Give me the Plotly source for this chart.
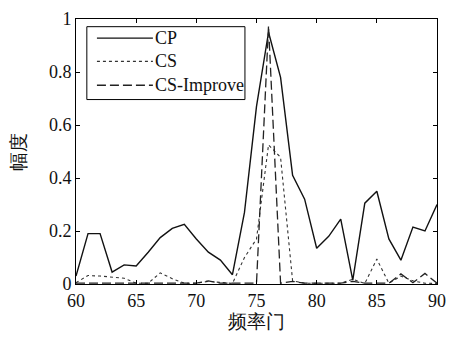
import plotly.graph_objects as go

freq = list(range(60, 91))
cp = [0.03, 0.19, 0.19, 0.045, 0.072, 0.068, 0.12, 0.175, 0.21, 0.225,
      0.17, 0.12, 0.09, 0.035, 0.27, 0.67, 0.95, 0.78, 0.41, 0.32,
      0.135, 0.18, 0.245, 0.015, 0.305, 0.35, 0.17, 0.09, 0.215, 0.2, 0.3]
cs = [0.005, 0.032, 0.03, 0.025, 0.022, 0.003, 0.003, 0.042, 0.02, 0.003,
      0.003, 0.01, 0.005, 0.002, 0.10, 0.17, 0.525, 0.478, 0.012, 0.003,
      0.003, 0.003, 0.003, 0.018, 0.002, 0.094, 0.003, 0.03, 0.012, 0.003, 0.002]
cs_imp = [0.003, 0.003, 0.003, 0.003, 0.003, 0.003, 0.003, 0.003, 0.003, 0.003,
          0.003, 0.012, 0.003, 0.003, 0.003, 0.003, 0.975, 0.003, 0.01, 0.003,
          0.003, 0.003, 0.003, 0.01, 0.003, 0.003, 0.003, 0.038, 0.005, 0.04, 0.003]
names = ["CP", "CS", "CS-Improve"]
x_ticks = [60, 65, 70, 75, 80, 85, 90]
y_ticks = [0, 0.2, 0.4, 0.6, 0.8, 1]
y_labels = ["0", "0.2", "0.4", "0.6", "0.8", "1"]

FONT = "Liberation Serif"
styles = [dict(color="#111111", width=1.4),
          dict(color="#333333", width=1.1, dash="dot"),
          dict(color="#222222", width=1.3, dash="9px,4px")]

fig = go.Figure()
for name, ys, st in zip(names, [cp, cs, cs_imp], styles):
    fig.add_trace(go.Scatter(x=freq, y=ys, name=name, mode="lines",
                             line=st, showlegend=False))

# legend drawn as a box with sample lines and labels (paper coordinates)
box = dict(x0=0.030, x1=0.468, y0=0.696, y1=0.971)
fig.add_shape(type="rect", xref="paper", yref="paper", **box,
              line=dict(color="black", width=1), fillcolor="white", layer="above")
rows = [0.928, 0.840, 0.750]
for name, st, yy in zip(names, styles, rows):
    fig.add_shape(type="line", xref="paper", yref="paper",
                  x0=0.058, x1=0.213, y0=yy, y1=yy, line=st, layer="above")
    fig.add_annotation(xref="paper", yref="paper", x=0.212, y=yy, text=name,
                       showarrow=False, xanchor="left", yanchor="middle",
                       font=dict(family=FONT, size=18, color="#111"))

axis_common = dict(showgrid=False, zeroline=False, showline=True, mirror="allticks",
                   linecolor="black", linewidth=1, ticks="inside", ticklen=4,
                   tickcolor="black", ticklabeloverflow="allow",
                   tickfont=dict(family=FONT, size=18, color="#111"))

fig.update_layout(
    width=455, height=337,
    margin=dict(l=76, r=18, t=9, b=52),
    paper_bgcolor="white", plot_bgcolor="white",
    font=dict(family=FONT, color="#111"),
    xaxis=dict(range=[60, 90], tickvals=x_ticks, ticktext=[str(v) for v in x_ticks],
               title=dict(text="频率门", font=dict(family=FONT, size=19), standoff=4),
               **axis_common),
    yaxis=dict(range=[0, 1], tickvals=y_ticks, ticktext=y_labels,
               title=dict(text="幅度", font=dict(family=FONT, size=19), standoff=18),
               **axis_common),
    showlegend=False,
)

fig.write_html("out.html")
